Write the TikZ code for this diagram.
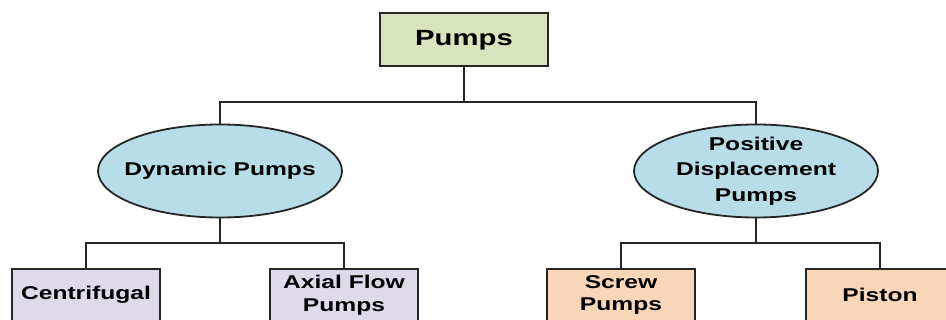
\documentclass[tikz,border=0pt]{standalone}
\usepackage{fontspec}
\newfontfamily\chartfont{Liberation Sans}[FakeStretch=1.33]
\usetikzlibrary{shapes.geometric}

\definecolor{topgreen}{HTML}{D7E4BD}
\definecolor{midblue}{HTML}{B7DDE8}
\definecolor{leftlilac}{HTML}{DFDAE8}
\definecolor{rightpeach}{HTML}{FAD6B8}

\tikzset{
  topbox/.style={rectangle, draw=black!85, line width=2pt, fill=topgreen, inner sep=0pt,
    minimum width=168pt, minimum height=53pt, font=\chartfont\bfseries\fontsize{22}{25}\selectfont},
  midoval/.style={ellipse, draw=black!85, line width=1.8pt, fill=midblue, inner xsep=-25pt, inner ysep=-3pt,
    minimum width=244pt, minimum height=93pt, align=center, font=\chartfont\bfseries\fontsize{18.5}{25.5}\selectfont},
  leafbox/.style={rectangle, draw=black!85, line width=2pt, inner sep=0pt,
    minimum width=148pt, minimum height=52pt, align=center, font=\chartfont\bfseries\fontsize{18.5}{22.5}\selectfont},
  link/.style={draw=black!85, line width=2pt}
}

\begin{document}
\begin{tikzpicture}[x=10pt, y=10pt]
      \useasboundingbox (0, 0) rectangle (94.6, 32);
      \clip (0, 0) rectangle (94.6, 32);
      \fill[white] (0, 0) rectangle (94.6, 32);

      \node[topbox] (pumps) at (46.4, 28.0) {Pumps};
      \node[midoval] (dynamic) at (22.0, 14.9) {Dynamic Pumps};
      \node[midoval] (positive) at (75.6, 14.9) {Positive\\Displacement\\Pumps};
      \node[leafbox, fill=leftlilac] (centrifugal) at (8.6, 2.5) {Centrifugal};
      \node[leafbox, fill=leftlilac] (axial) at (34.4, 2.5) {Axial Flow\\Pumps};
      \node[leafbox, fill=rightpeach] (screw) at (62.1, 2.5) {Screw\\Pumps};
      \node[leafbox, fill=rightpeach] (piston) at (88.0, 2.5) {Piston};

      \coordinate (j0) at (46.4, 21.8);
      \coordinate (j1) at (22.0, 7.7);
      \coordinate (j2) at (75.6, 7.7);

      \draw[link] (pumps.south) -- (j0);
      \draw[link] (dynamic.north) |- (j0) -| (positive.north);
      \draw[link] (dynamic.south) -- (j1);
      \draw[link] (centrifugal.north) |- (j1) -| (axial.north);
      \draw[link] (positive.south) -- (j2);
      \draw[link] (screw.north) |- (j2) -| (piston.north);
    \end{tikzpicture}
\end{document}
